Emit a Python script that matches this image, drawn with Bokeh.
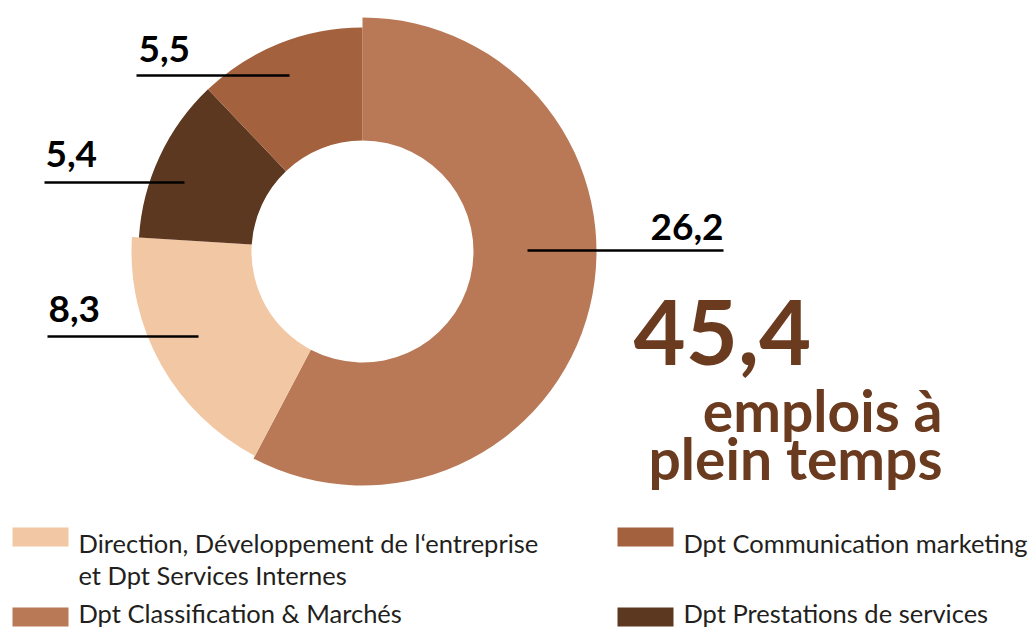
import math
from bokeh.plotting import figure
from bokeh.models import Range1d
from bokeh.core.properties import value
from bokeh.embed import file_html
from bokeh.resources import INLINE

# ---- data ----
categories = [
    "Dpt Classification & Marchés",
    "Direction, Développement de l\u2018entreprise\net Dpt Services Internes",
    "Dpt Prestations de services",
    "Dpt Communication marketing",
]
values = [26.2, 8.3, 5.4, 5.5]
colors = ["#b97956", "#f2c7a4", "#5d3820", "#a4613d"]
caption_lines = ["emplois à", "plein temps"]

# legend order (left column first, then right column)
legend_order = [1, 0, 3, 2]

# ---- layout / style (screen px in the 1029x630 page) ----
W, H = 1029, 630
def X(x):
    return x
def Y(y):
    return H - y
BASE_K = 0.38  # measured offset of rendered baseline vs anchor (em)
def TY(baseline, size):
    return Y(baseline - BASE_K * size)

CX, CY = X(362), Y(251)
INNER = 111
OUTER = [234, 231, 224, 224]
FONT = "Lato"

p = figure(width=W, height=H, x_range=Range1d(0, W), y_range=Range1d(0, H),
           output_backend="svg", toolbar_location=None, min_border=0,
           background_fill_color="white", border_fill_color="white")
p.axis.visible = False
p.grid.visible = False
p.outline_line_color = None

total = sum(values)
starts, ends = [], []
cum = 0.0
for v in values:
    a0 = cum / total * 2 * math.pi
    cum += v
    a1 = cum / total * 2 * math.pi
    starts.append(math.pi / 2 - a0)
    ends.append(math.pi / 2 - a1)

p.annular_wedge(x=[CX] * len(values), y=[CY] * len(values),
                inner_radius=INNER, outer_radius=OUTER,
                start_angle=starts, end_angle=ends, direction="clock",
                fill_color=colors, line_color=None)

def fmt(v):
    return f"{v:.1f}".replace(".", ",")

# value labels with leader lines: (text_x, baseline_y, align, line_x0, line_x1, line_y)
LBL = 37
label_layout = [
    (723, 241, "right", 527, 723, 250),
    (48, 323, "left", 47, 198, 336),
    (45, 168, "left", 44, 184, 182),
    (138, 63, "left", 136, 289, 75),
]
for v, (tx, ty, al, lx0, lx1, ly) in zip(values, label_layout):
    p.segment(x0=[X(lx0)], y0=[Y(ly)], x1=[X(lx1)], y1=[Y(ly)],
              line_color="black", line_width=2.5)
    p.text(x=[X(tx)], y=[TY(ty, LBL)], text=[fmt(v)], text_align=al,
           text_baseline="alphabetic", text_font=value(FONT),
           text_font_style="bold", text_font_size=f"{LBL}px", text_color="black")

# total
BIG = 90
p.text(x=[X(633)], y=[TY(366, BIG)], text=[fmt(total)], text_align="left",
       text_baseline="alphabetic", text_font=value(FONT), text_font_style="bold",
       text_font_size=f"{BIG}px", text_color="#6b3b20")
CAP = 57
for line, by in zip(caption_lines, [431, 479]):
    p.text(x=[X(942)], y=[TY(by, CAP)], text=[line], text_align="right",
           text_baseline="alphabetic", text_font=value(FONT), text_font_style="bold",
           text_font_size=f"{CAP}px", text_color="#6b3b20")

# legend
LEG = 25.5
slots = [(12, 527, 78, 552), (12, 607, 78, 622), (617, 527, 683, 552), (617, 607, 683, 622)]
for idx, (sx, sy, tx, ty) in zip(legend_order, slots):
    p.rect(x=[X(sx + 28)], y=[Y(sy + 9.5)], width=56, height=19,
           fill_color=colors[idx], line_color=None)
    for k, line in enumerate(categories[idx].split("\n")):
        p.text(x=[X(tx)], y=[TY(ty + 32 * k, LEG)], text=[line], text_align="left",
               text_baseline="alphabetic", text_font=value(FONT),
               text_font_size=f"{LEG}px", text_color="#231f20")

open("out.html", "w").write(file_html(p, INLINE))
